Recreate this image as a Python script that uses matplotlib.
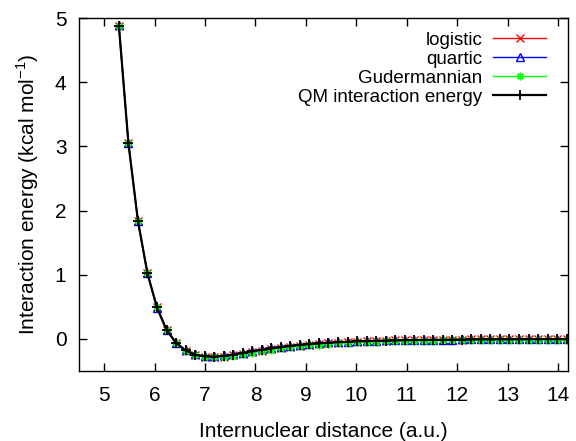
import matplotlib
matplotlib.use("Agg")
import matplotlib.pyplot as plt

plt.rcParams['font.family'] = ['Liberation Sans', 'DejaVu Sans']
plt.rcParams['font.size'] = 15

# internuclear distance in bohr (0.1 Angstrom steps, 2.8 .. 7.5 A)
r_bohr = [5.291, 5.480, 5.669, 5.858, 6.047, 6.236, 6.425, 6.614, 6.803, 6.992,
          7.181, 7.370, 7.559, 7.748, 7.937, 8.126, 8.315, 8.504, 8.693, 8.882,
          9.071, 9.260, 9.449, 9.638, 9.827, 10.016, 10.205, 10.394, 10.582, 10.771,
          10.960, 11.149, 11.338, 11.527, 11.716, 11.905, 12.094, 12.283, 12.472, 12.661,
          12.850, 13.039, 13.228, 13.417, 13.606, 13.795, 13.984, 14.173]

# interaction energies (kcal/mol)
qm = [4.88, 3.05, 1.84, 1.02, 0.49, 0.14, -0.06, -0.18, -0.245, -0.272,
      -0.276, -0.265, -0.245, -0.220, -0.195, -0.170, -0.148, -0.128, -0.110, -0.094,
      -0.081, -0.070, -0.060, -0.052, -0.045, -0.039, -0.034, -0.030, -0.026, -0.023,
      -0.020, -0.018, -0.016, -0.014, -0.013, -0.011, -0.010, -0.009, -0.008, -0.0075,
      -0.007, -0.006, -0.0055, -0.005, -0.0045, -0.004, -0.0037, -0.0034]

logistic = [4.87, 3.06, 1.83, 1.02, 0.49, 0.14, -0.065, -0.185, -0.252, -0.280,
            -0.284, -0.275, -0.256, -0.232, -0.207, -0.182, -0.160, -0.139, -0.120, -0.103,
            -0.089, -0.076, -0.066, -0.057, -0.049, -0.043, -0.037, -0.032, -0.028, -0.024,
            -0.021, -0.019, -0.016, -0.014, -0.013, -0.011, -0.010, -0.009, -0.008, -0.007,
            -0.006, -0.006, -0.005, -0.005, -0.004, -0.004, -0.003, -0.003]

quartic = [4.89, 3.05, 1.84, 1.02, 0.48, 0.14, -0.06, -0.175, -0.240, -0.268,
           -0.270, -0.258, -0.237, -0.212, -0.186, -0.162, -0.140, -0.120, -0.103, -0.088,
           -0.075, -0.064, -0.055, -0.047, -0.041, -0.035, -0.031, -0.027, -0.023, -0.020,
           -0.018, -0.016, -0.014, -0.012, -0.011, -0.010, -0.009, -0.008, -0.007, -0.006,
           -0.006, -0.005, -0.005, -0.004, -0.004, -0.003, -0.003, -0.003]

gudermannian = [4.88, 3.05, 1.83, 1.02, 0.49, 0.14, -0.062, -0.182, -0.250, -0.279,
                -0.284, -0.276, -0.259, -0.237, -0.213, -0.190, -0.168, -0.148, -0.130, -0.114,
                -0.100, -0.088, -0.077, -0.068, -0.060, -0.053, -0.047, -0.042, -0.037, -0.034,
                -0.032, -0.030, -0.028, -0.026, -0.024, -0.023, -0.022, -0.021, -0.020, -0.019,
                -0.018, -0.018, -0.017, -0.017, -0.016, -0.016, -0.016, -0.016]

fig = plt.figure(figsize=(5.76, 4.41), dpi=100)
ax = fig.add_axes([79/576, 1 - 371/441, (568-79)/576, (371-18)/441])

ax.plot(r_bohr, logistic, color='#ff0000', lw=1, marker='x', ms=5.5, mew=1, label='logistic')
ax.plot(r_bohr, quartic, color='#0000ff', lw=1, marker='^', ms=5.5, mew=1, mfc='none', label='quartic')
ax.plot(r_bohr, gudermannian, color='#00ff00', lw=1, marker=(8, 2, 0), ms=5.5, mew=1, label='Gudermannian')
ax.plot(r_bohr, qm, color='black', lw=1.6, marker='+', ms=7, mew=1.3, label='QM interaction energy')

ax.set_xlim(4.5, 14.2)
ax.set_ylim(-0.5, 5)
ax.set_xticks(range(5, 15))
ax.set_yticks(range(0, 6))
ax.tick_params(axis='x', direction='in', length=6, width=1, top=True, pad=11, labelsize=15)
ax.tick_params(axis='y', direction='in', length=6, width=1, right=True, pad=9, labelsize=15)
for s in ax.spines.values():
    s.set_linewidth(1)

ax.set_xlabel('Internuclear distance (a.u.)', fontsize=15, labelpad=12)
ax.set_ylabel('Interaction energy (kcal mol$^{\\mathregular{-1}}$)', fontsize=15, labelpad=10)

ax.legend(loc='upper right', bbox_to_anchor=(0.955, 0.962), frameon=False, markerfirst=False,
          handlelength=2.8, handletextpad=0.6, labelspacing=0.1, borderpad=0, borderaxespad=0,
          fontsize=13.5)

fig.savefig('out.png', dpi=100)
